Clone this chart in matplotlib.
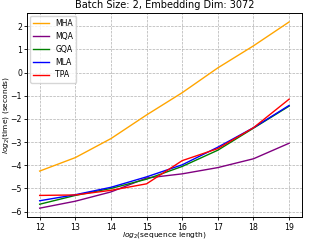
import matplotlib
matplotlib.use("Agg")
import matplotlib.pyplot as plt

x = [12, 13, 14, 15, 16, 17, 18, 19]
mha = [-4.25, -3.67, -2.85, -1.83, -0.87, 0.2, 1.15, 2.18]
mqa = [-5.85, -5.55, -5.15, -4.55, -4.37, -4.1, -3.72, -3.05]
gqa = [-5.68, -5.3, -5.0, -4.6, -4.05, -3.35, -2.4, -1.45]
mla = [-5.53, -5.27, -4.95, -4.5, -3.98, -3.22, -2.38, -1.42]
tpa = [-5.3, -5.28, -5.08, -4.8, -3.8, -3.28, -2.38, -1.15]

fig, ax = plt.subplots(figsize=(3.09, 2.43), dpi=100)
fs = 5.6
ax.plot(x, mha, color="orange", lw=1, label="MHA")
ax.plot(x, mqa, color="purple", lw=1, label="MQA")
ax.plot(x, gqa, color="green", lw=1, label="GQA")
ax.plot(x, mla, color="blue", lw=1, label="MLA")
ax.plot(x, tpa, color="red", lw=1, label="TPA")
ax.set_xticks(x)
ax.set_yticks([-6, -5, -4, -3, -2, -1, 0, 1, 2])
ax.tick_params(labelsize=fs, length=2.5, pad=1.2, width=0.6)
for s in ax.spines.values():
    s.set_linewidth(0.7)
ax.grid(True, linestyle="--", color="#b0b0b0", lw=0.5)
ax.set_xlabel(r"$log_2$(sequence length)", fontsize=5.4)
ax.set_ylabel(r"$log_2$(time) (seconds)", fontsize=5.4)
ax.xaxis.set_label_coords(0.5, -0.062)
ax.yaxis.set_label_coords(-0.06, 0.5)
ax.set_title("Batch Size: 2, Embedding Dim: 3072", fontsize=7, pad=3)
ax.legend(fontsize=fs, loc="upper left", borderaxespad=0.4)
fig.subplots_adjust(left=0.088, right=0.976, top=0.948, bottom=0.105)
fig.savefig("out.png", dpi=100)
